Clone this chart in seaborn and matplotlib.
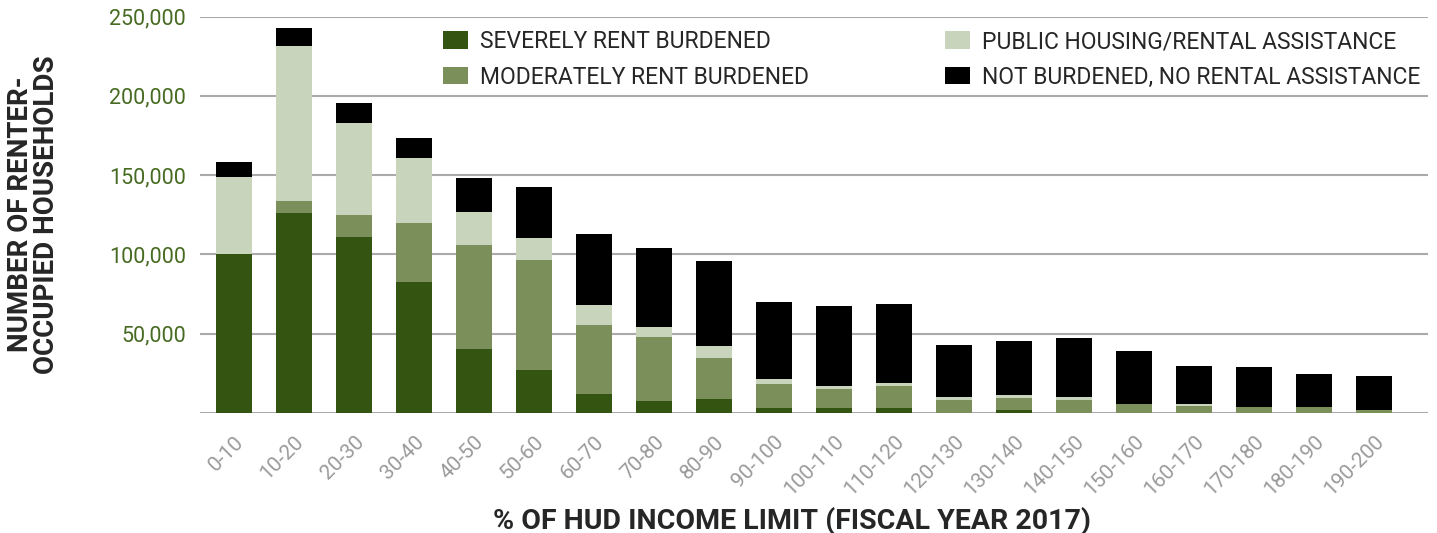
import matplotlib
matplotlib.use("Agg")
import matplotlib.pyplot as plt
import seaborn as sns
import pandas as pd
import numpy as np
from matplotlib.patches import Patch

# income bins (% of HUD income limit)
bins = ["0-10", "10-20", "20-30", "30-40", "40-50", "50-60", "60-70", "70-80",
        "80-90", "90-100", "100-110", "110-120", "120-130", "130-140", "140-150",
        "150-160", "160-170", "170-180", "180-190", "190-200"]

# households, in thousands
severe = [100, 126, 111, 82.5, 40, 27, 11.8, 7.4, 8.6, 3, 3, 3, 0, 1.7, 0, 0, 0, 0, 0, 0]
moderate = [0, 7.5, 14, 37.3, 65.7, 69.4, 43.6, 40.4, 25.9, 15.1, 11.9, 13.8, 8, 7.6, 8, 5.5, 4.2, 3.6, 3.6, 1.7]
public = [48.8, 98, 58, 41, 21, 14, 12.6, 6.3, 7.6, 3.2, 1.9, 2, 1.9, 1.9, 1.9, 0, 1.3, 0, 0, 0]
not_burdened = [9.5, 11.4, 12.6, 12.6, 21.4, 32.2, 45, 49.9, 53.7, 48.6, 50.6, 49.8, 32.8, 34.1, 37.3, 33.5, 24, 25.2, 20.8, 21.5]

labels = ["SEVERELY RENT BURDENED", "MODERATELY RENT BURDENED",
          "PUBLIC HOUSING/RENTAL ASSISTANCE", "NOT BURDENED, NO RENTAL ASSISTANCE"]
colors = ["#335511", "#7a8f5a", "#c8d4bc", "#000000"]

df = pd.DataFrame({"bin": bins,
                   "severe": np.array(severe) * 1000,
                   "moderate": np.array(moderate) * 1000,
                   "public": np.array(public) * 1000,
                   "not": np.array(not_burdened) * 1000})
df["c1"] = df["severe"]
df["c2"] = df["c1"] + df["moderate"]
df["c3"] = df["c2"] + df["public"]
df["c4"] = df["c3"] + df["not"]

sns.set_style("white")
plt.rcParams["font.family"] = ["Roboto", "DejaVu Sans"]

fig = plt.figure(figsize=(14.37, 5.33), dpi=100)
ax = fig.add_axes([200 / 1437, 1 - 412.7 / 533, 1228 / 1437, (412.7 - 16.7) / 533])

# stacked bars: draw cumulative totals from top layer down
for col, c in zip(["c4", "c3", "c2", "c1"], colors[::-1]):
    sns.barplot(data=df, x="bin", y=col, color=c, width=0.6, saturation=1,
                ax=ax, zorder=3, linewidth=0)

ax.set_ylim(0, 250000)
ax.set_xlim(-0.57, 19.9)
ax.set_yticks(range(0, 250001, 50000))
ax.set_yticklabels(["", "50,000", "100,000", "150,000", "200,000", "250,000"])
ax.grid(axis="y", color="#aaaaaa", linewidth=1.5, zorder=0)
ax.grid(axis="x", visible=False)
for s in ax.spines.values():
    s.set_visible(False)
ax.tick_params(axis="y", length=0, pad=10, labelsize=15.5, labelcolor="#476b22")
ax.tick_params(axis="x", length=0, pad=14, labelsize=15, labelcolor="#9a9a9a")
plt.setp(ax.get_xticklabels(), rotation=45, ha="right", rotation_mode="anchor")

ax.set_xlabel("% OF HUD INCOME LIMIT (FISCAL YEAR 2017)", fontsize=20.5,
              fontweight="bold")
ax.xaxis.set_label_coords(0.482, -0.238)
ax.set_ylabel("NUMBER OF RENTER-\nOCCUPIED HOUSEHOLDS", fontsize=20,
              fontweight="bold", linespacing=0.95)
ax.yaxis.set_label_coords(-0.114, 0.5)

handles = [Patch(facecolor=c, edgecolor="none") for c in colors]
leg_kw = dict(frameon=False, fontsize=16.5, handlelength=1.1, handleheight=0.8,
              handletextpad=0.5, labelspacing=0.55, borderaxespad=0, borderpad=0,
              loc="upper left", bbox_transform=fig.transFigure)
leg1 = ax.legend(handles[:2], labels[:2], bbox_to_anchor=(443 / 1437, 1 - 30 / 533), **leg_kw)
ax.add_artist(leg1)
ax.legend(handles[2:], labels[2:], bbox_to_anchor=(945 / 1437, 1 - 30 / 533), **leg_kw)

fig.savefig("out.png", dpi=100)
